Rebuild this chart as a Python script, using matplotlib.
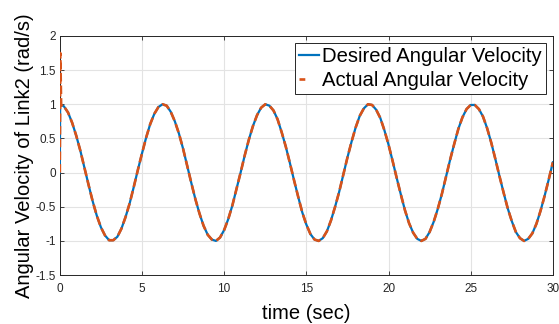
import matplotlib
matplotlib.use("Agg")
import matplotlib.pyplot as plt

plt.rcParams['font.family'] = ['Liberation Sans', 'DejaVu Sans']

# time samples (sec)
t_des = [0.0, 0.02, 0.25, 0.5, 0.75, 1.0, 1.25, 1.5, 1.75, 2.0, 2.25, 2.5, 2.75, 3.0, 3.25, 3.5, 3.75,
         4.0, 4.25, 4.5, 4.75, 5.0, 5.25, 5.5, 5.75, 6.0, 6.25, 6.5, 6.75, 7.0, 7.25, 7.5, 7.75,
         8.0, 8.25, 8.5, 8.75, 9.0, 9.25, 9.5, 9.75, 10.0, 10.25, 10.5, 10.75, 11.0, 11.25, 11.5, 11.75,
         12.0, 12.25, 12.5, 12.75, 13.0, 13.25, 13.5, 13.75, 14.0, 14.25, 14.5, 14.75, 15.0, 15.25, 15.5, 15.75,
         16.0, 16.25, 16.5, 16.75, 17.0, 17.25, 17.5, 17.75, 18.0, 18.25, 18.5, 18.75, 19.0, 19.25, 19.5, 19.75,
         20.0, 20.25, 20.5, 20.75, 21.0, 21.25, 21.5, 21.75, 22.0, 22.25, 22.5, 22.75, 23.0, 23.25, 23.5, 23.75,
         24.0, 24.25, 24.5, 24.75, 25.0, 25.25, 25.5, 25.75, 26.0, 26.25, 26.5, 26.75, 27.0, 27.25, 27.5, 27.75,
         28.0, 28.25, 28.5, 28.75, 29.0, 29.25, 29.5, 29.75, 30.0]

# desired angular velocity (rad/s)
w_des = [0.0, 1.0, 0.97, 0.88, 0.73, 0.54, 0.32, 0.07, -0.18, -0.42, -0.63, -0.80, -0.92, -0.99, -0.99, -0.94, -0.82,
         -0.65, -0.45, -0.21, 0.04, 0.28, 0.51, 0.71, 0.86, 0.96, 1.0, 0.98, 0.89, 0.75, 0.57, 0.35, 0.10,
         -0.15, -0.39, -0.60, -0.78, -0.91, -0.98, -1.0, -0.95, -0.84, -0.68, -0.48, -0.24, 0.0, 0.25, 0.48, 0.68,
         0.84, 0.95, 1.0, 0.98, 0.91, 0.78, 0.59, 0.38, 0.14, -0.11, -0.35, -0.58, -0.76, -0.90, -0.98, -1.0,
         -0.96, -0.86, -0.70, -0.50, -0.28, -0.03, 0.22, 0.45, 0.66, 0.83, 0.94, 1.0, 0.99, 0.92, 0.80, 0.62,
         0.41, 0.17, -0.08, -0.32, -0.55, -0.74, -0.88, -0.97, -1.0, -0.97, -0.87, -0.72, -0.53, -0.31, -0.06, 0.19,
         0.42, 0.64, 0.81, 0.93, 0.99, 0.99, 0.93, 0.82, 0.65, 0.44, 0.20, -0.05, -0.29, -0.52, -0.71, -0.87,
         -0.96, -1.0, -0.97, -0.89, -0.75, -0.56, -0.34, -0.10, 0.15]

# actual angular velocity: initial transient then tracks desired
t_act = [0.0, 0.03, 0.08, 0.15] + t_des[2:]
w_act = [0.0, 1.75, 1.0, 0.96] + w_des[2:]

fig = plt.figure(figsize=(5.59, 3.24), dpi=100)
ax = fig.add_axes([0.107, 0.151, 0.882, 0.738])

ax.plot(t_des, w_des, color='#0072BD', lw=1.6, label='Desired Angular Velocity', zorder=3)
ax.plot(t_act, w_act, color='#D95319', lw=1.9, ls=(0, (3.2, 1.6)), label='Actual Angular Velocity', zorder=4)

ax.set_xlim(0, 30)
ax.set_ylim(-1.5, 2)
ax.set_xticks([0, 5, 10, 15, 20, 25, 30])
ax.set_yticks([-1.5, -1, -0.5, 0, 0.5, 1, 1.5, 2])
ax.set_yticklabels(['-1.5', '-1', '-0.5', '0', '0.5', '1', '1.5', '2'])
ax.grid(True, color='#E3E3E3', lw=0.8)
ax.set_axisbelow(True)
ax.tick_params(direction='in', top=True, right=True, labelsize=8.5, length=3, width=0.6, colors='#262626', pad=3)
ax.tick_params(axis='x', pad=6)
for s in ax.spines.values():
    s.set_color('#262626')
    s.set_linewidth(0.7)

ax.set_xlabel('time (sec)', fontsize=14.5, labelpad=6)
ax.set_ylabel('Angular Velocity of Link2 (rad/s)', fontsize=14.5, labelpad=1)

leg = ax.legend(loc='upper right', fontsize=14.6, frameon=True, fancybox=False,
                handlelength=1.0, handletextpad=0.15, borderpad=0.2, labelspacing=0.25,
                borderaxespad=0.35)
leg.get_frame().set_edgecolor('#262626')
leg.get_frame().set_linewidth(0.7)
leg.get_frame().set_alpha(1)
leg.get_lines()[1].set_linestyle((0, (2.2, 8)))

fig.savefig('out.png', dpi=100)
